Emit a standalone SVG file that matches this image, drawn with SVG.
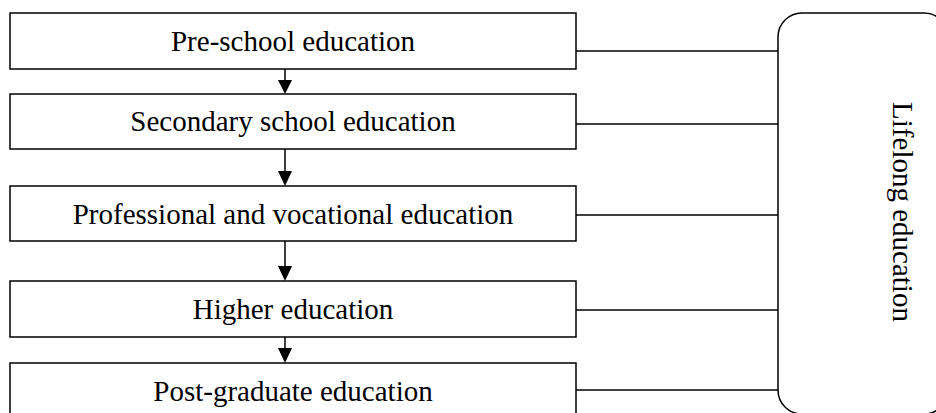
<svg xmlns="http://www.w3.org/2000/svg" width="936" height="413" viewBox="0 0 936 413">
<style>
.box{fill:#fff;stroke:#000;stroke-width:1.5}
.lbl{font-family:"Liberation Serif","Times New Roman",serif;font-size:29px;fill:#000;text-anchor:middle}
.con{stroke:#000;stroke-width:1.5;fill:none}
</style>
<defs>
<marker id="ah" viewBox="0 0 10 10" refX="10" refY="5" markerWidth="10" markerHeight="10" markerUnits="userSpaceOnUse" orient="auto">
<path d="M0,0 L10,5 L0,10 z" fill="#000"/>
</marker>
</defs>
<rect width="936" height="413" fill="#fff"/>
<g id="connectors">
<line class="con" x1="576" y1="51" x2="778" y2="51"/>
<line class="con" x1="576" y1="124" x2="778" y2="124"/>
<line class="con" x1="576" y1="215" x2="778" y2="215"/>
<line class="con" x1="576" y1="310" x2="778" y2="310"/>
<line class="con" x1="576" y1="390" x2="778" y2="390"/>
<g fill="#000" stroke="none">
<line class="con" x1="285" y1="69" x2="285" y2="80"/><path d="M278,80 L292,80 L285,94 z"/>
<line class="con" x1="285" y1="149" x2="285" y2="172"/><path d="M278,171 L292,171 L285,186 z"/>
<line class="con" x1="285" y1="241" x2="285" y2="267"/><path d="M278,266 L292,266 L285,281 z"/>
<line class="con" x1="285" y1="337" x2="285" y2="349"/><path d="M278,348 L292,348 L285,363 z"/>
</g>
</g>
<g id="n1"><rect class="box" x="10" y="13" width="566" height="56"/><text class="lbl" x="293" y="51">Pre-school education</text></g>
<g id="n2"><rect class="box" x="10" y="94" width="566" height="55"/><text class="lbl" x="293" y="131">Secondary school education</text></g>
<g id="n3"><rect class="box" x="10" y="186" width="566" height="55"/><text class="lbl" x="293" y="224">Professional and vocational education</text></g>
<g id="n4"><rect class="box" x="10" y="281" width="566" height="56"/><text class="lbl" x="293" y="319">Higher education</text></g>
<g id="n5"><rect class="box" x="10" y="363" width="566" height="56"/><text class="lbl" x="293" y="401">Post-graduate education</text></g>
<g id="lifelong"><rect class="box" x="778" y="13" width="170" height="401" rx="24" ry="24"/><text class="lbl" transform="translate(893,212) rotate(90)">Lifelong education</text></g>
</svg>
